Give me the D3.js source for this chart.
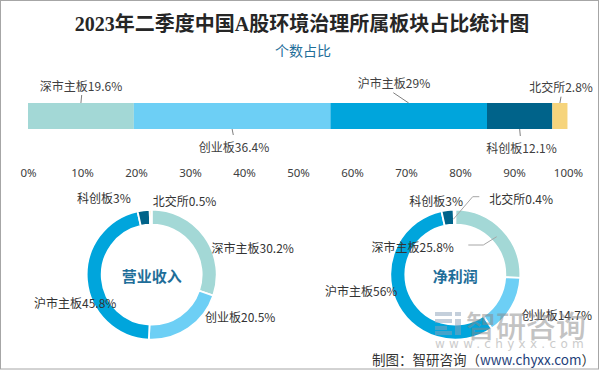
<!DOCTYPE html>
<html>
<head>
<meta charset="utf-8">
<script src="https://cdn.jsdelivr.net/npm/d3@7/dist/d3.min.js"></script>
<style>
    html, body { margin: 0; padding: 0; background: #fff; }
    svg { display: block; font-family: "Noto Sans CJK SC", "Noto Sans", sans-serif; }
</style>
</head>
<body>
<svg id="chart" width="605" height="371"></svg>
<script>
// data
const categories = ['深市主板', '创业板', '沪市主板', '科创板', '北交所'];
const countShare = [19.6, 36.4, 29, 12.1, 2.8];
const revenueShare = [30.2, 20.5, 45.8, 3, 0.5];
const profitShare = [25.8, 14.7, 56, 3, 0.4];
const xTicks = [0, 10, 20, 30, 40, 50, 60, 70, 80, 90, 100];
const palette = ['#a3d8d6', '#6dcff5', '#00a5dc', '#00638a', '#f6d47c'];

const svg = d3.select('#chart');
const color = d3.scaleOrdinal().domain(categories).range(palette);

// frame
svg.append('rect')
    .attr('x', 0.5).attr('y', 0.5)
    .attr('width', 598).attr('height', 368.5)
    .attr('fill', '#fff')
    .attr('stroke', '#a6a6a6');

// titles
svg.append('text')
    .attr('x', 302).attr('y', 24)
    .attr('text-anchor', 'middle')
    .attr('dominant-baseline', 'central')
    .style('font-family', '"Liberation Serif", "Noto Sans CJK SC", serif')
    .style('font-size', '20px')
    .style('font-weight', '600')
    .attr('fill', '#262626')
    .text('2023年二季度中国A股环境治理所属板块占比统计图');

svg.append('text')
    .attr('x', 303).attr('y', 50)
    .attr('text-anchor', 'middle')
    .attr('dominant-baseline', 'central')
    .style('font-size', '14px')
    .attr('fill', '#1f6e99')
    .text('个数占比');

// stacked bar
const x = d3.scaleLinear().domain([0, 100]).range([28, 568]);
let acc = 0;
const stacked = categories.map((c, i) => {
    const d = { name: c, value: countShare[i], x0: acc, x1: acc + countShare[i] };
    acc += countShare[i];
    return d;
});

const barTop = 103, barBottom = 129;
svg.append('g').selectAll('rect')
    .data(stacked)
    .enter()
    .append('rect')
    .attr('x', d => x(d.x0))
    .attr('y', barTop)
    .attr('width', d => x(d.x1) - x(d.x0))
    .attr('height', barBottom - barTop)
    .attr('fill', d => color(d.name));

// bar labels: which side, label centre and leader end
const barLabelLayout = {
    '深市主板': { side: 'top', lx: 81, ly: 85, ex: 81.7, ey: 95 },
    '创业板': { side: 'bottom', lx: 234, ly: 146, ex: 233.3, ey: 135 },
    '沪市主板': { side: 'top', lx: 394, ly: 82.5, ex: 393.3, ey: 92.7 },
    '科创板': { side: 'bottom', lx: 521.5, ly: 147.3, ex: 520.3, ey: 136 },
    '北交所': { side: 'top', lx: 561, ly: 86, ex: 561, ey: 96.7 }
};

const barLabels = svg.append('g');
stacked.forEach(d => {
    const l = barLabelLayout[d.name];
    const mx = x((d.x0 + d.x1) / 2);
    const sy = l.side === 'top' ? barTop : barBottom;
    barLabels.append('line')
        .attr('x1', mx).attr('y1', sy)
        .attr('x2', l.ex).attr('y2', l.ey)
        .attr('stroke', '#7f7f7f')
        .attr('stroke-width', 1);
    barLabels.append('text')
        .attr('x', l.lx).attr('y', l.ly)
        .attr('text-anchor', 'middle')
        .attr('dominant-baseline', 'central')
        .style('font-size', '12px')
        .attr('fill', '#404040')
        .text(d.name + d.value + '%');
});

// axis tick labels (no line)
const axis = svg.append('g')
    .attr('transform', 'translate(0,173)')
    .call(d3.axisBottom(x).tickValues(xTicks).tickFormat(d => d + '%').tickSize(0));
axis.select('.domain').remove();
axis.selectAll('text')
    .attr('y', 0)
    .attr('dy', '0.35em')
    .style('font-family', '"Noto Sans", sans-serif')
    .style('font-size', '11.5px')
    .attr('fill', '#404040');

// donuts
const pie = d3.pie().sort(null).value(d => d.value);
const arc = d3.arc().innerRadius(50).outerRadius(65);

function drawDonut(cx, cy, values, centerText, labelLayout, leaders) {
    const data = categories.map((c, i) => ({ name: c, value: values[i] }));
    const g = svg.append('g');
    const ring = g.append('g').attr('transform', `translate(${cx},${cy})`);
    ring.selectAll('path')
        .data(pie(data))
        .enter()
        .append('path')
        .attr('d', arc)
        .attr('fill', d => color(d.data.name))
        .attr('stroke', '#fff')
        .attr('stroke-width', 1.8);

    ring.append('text')
        .attr('x', 0).attr('y', 1)
        .attr('text-anchor', 'middle')
        .attr('dominant-baseline', 'central')
        .style('font-size', '15px')
        .style('font-weight', 'bold')
        .attr('fill', '#1f6e99')
        .text(centerText);

    leaders.forEach(pts => {
        g.append('polyline')
            .attr('points', pts.map(p => p.join(',')).join(' '))
            .attr('fill', 'none')
            .attr('stroke', '#a6a6a6')
            .attr('stroke-width', 1);
    });

    data.forEach(d => {
        const l = labelLayout[d.name];
        g.append('text')
            .attr('x', l[0]).attr('y', l[1])
            .attr('dominant-baseline', 'central')
            .style('font-size', '12px')
            .attr('fill', '#333')
            .text(d.name + d.value + '%');
    });
}

drawDonut(151.7, 274.7, revenueShare, '营业收入', {
    '深市主板': [211.5, 247],
    '创业板': [205, 316.7],
    '沪市主板': [34, 302],
    '科创板': [77, 197],
    '北交所': [152.7, 200.7]
}, []);

drawDonut(455.3, 274.6, profitShare, '净利润', {
    '深市主板': [371.5, 246],
    '创业板': [521.7, 314.3],
    '沪市主板': [325, 290],
    '科创板': [409.3, 200.7],
    '北交所': [489.3, 198.3]
}, [
    [[453.3, 219.3], [472.7, 196.7], [479.3, 196.7]],
    [[496.7, 236.7], [483.3, 245], [468.3, 245]]
]);

// watermark
const wm = svg.append('g').attr('opacity', 0.5);
const icon = wm.append('g').attr('fill', '#8aa0b8');
[[435, 312, 17, 4], [435, 319, 17, 4], [435, 326, 12, 4], [435, 331, 17, 4],
 [455, 312, 6, 4], [455, 319, 6, 16]].forEach(r => {
    icon.append('rect').attr('x', r[0]).attr('y', r[1]).attr('width', r[2]).attr('height', r[3]);
});
wm.append('text')
    .attr('x', 466).attr('y', 324)
    .attr('dominant-baseline', 'central')
    .style('font-size', '30px')
    .style('font-weight', '500')
    .attr('fill', '#888')
    .text('智研咨询');
wm.append('text')
    .attr('x', 435).attr('y', 343.5)
    .attr('dominant-baseline', 'central')
    .style('font-family', '"DejaVu Sans", sans-serif')
    .style('font-size', '12px')
    .style('letter-spacing', '4.3px')
    .attr('fill', '#999')
    .text('www.chyxx.com');

// footer
const foot = svg.append('text')
    .attr('x', 595).attr('y', 359)
    .attr('text-anchor', 'end')
    .attr('dominant-baseline', 'central')
    .style('font-size', '13.5px')
    .attr('fill', '#333');
foot.append('tspan').text('制图：智研咨询（');
foot.append('tspan').attr('fill', '#1f3f7a').text('www.chyxx.com');
foot.append('tspan').text('）');
</script>
</body>
</html>
